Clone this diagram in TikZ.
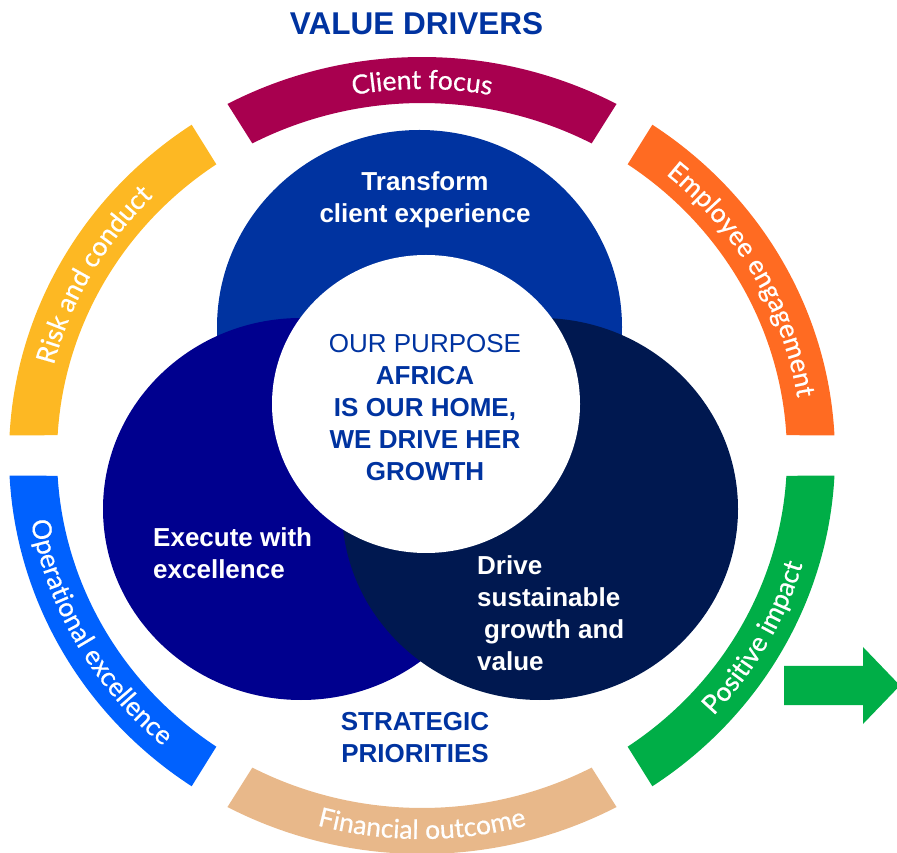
\documentclass[tikz,border=0pt]{standalone}
\usepackage{fontspec}
\setmainfont{Liberation Sans}
\newfontfamily\ringfont[FakeBold=0.6]{Lato}
\usetikzlibrary{decorations.text}
\definecolor{clientc}{HTML}{A8004F}
\definecolor{employeec}{HTML}{FF6B22}
\definecolor{riskc}{HTML}{FDB823}
\definecolor{operc}{HTML}{0061FE}
\definecolor{posc}{HTML}{00AE47}
\definecolor{finc}{HTML}{E8B88A}
\definecolor{topcirc}{HTML}{0033A0}
\definecolor{leftcirc}{HTML}{00008E}
\definecolor{rightcirc}{HTML}{001850}
\definecolor{txtblue}{HTML}{0033A0}
\newcommand\rsegment[3]{%
  \fill[#1] (#2+2.9:413pt and 398.5pt) arc[start angle=#2+2.9, end angle=#3-2.9, x radius=413pt, y radius=398.5pt]
    -- (#3-3.3:365pt and 352.5pt) arc[start angle=#3-3.3, end angle=#2+3.3, x radius=365pt, y radius=352.5pt] -- cycle;}
\newcommand\ringtxt{\ringfont\fontsize{26.5}{30}\selectfont}
\tikzset{
  cwtext/.style={decorate, decoration={text along path, text align=center, text color=white, text={|\ringtxt|#1}}},
  inwhite/.style={inner sep=0pt, text=white, font=\bfseries\fontsize{26}{31.5}\selectfont},
  inblue/.style={inner sep=0pt, text=txtblue, font=\fontsize{26}{32}\selectfont},
}
\begin{document}
\begin{tikzpicture}[x=1pt,y=1pt]
\clip (0,0) rectangle (897,852);
\useasboundingbox (0,0) rectangle (897,852);
% ring
\begin{scope}[shift={(422,396.5)}]
  \rsegment{employeec}{0}{59}
  \rsegment{clientc}{59}{121}
  \rsegment{riskc}{121}{180}
  \rsegment{operc}{180}{239}
  \rsegment{finc}{239}{301}
  \rsegment{posc}{301}{360}
  % clockwise texts (top half)
  \path[cwtext={Client focus}] (118:380pt and 366.5pt) arc[start angle=118, end angle=62, x radius=380pt, y radius=366.5pt];
  \path[cwtext={Employee engagement}] (56:380pt and 366.5pt) arc[start angle=56, end angle=3, x radius=380pt, y radius=366.5pt];
  \path[cwtext={Risk and conduct}] (177:380pt and 366.5pt) arc[start angle=177, end angle=124, x radius=380pt, y radius=366.5pt];
  % counterclockwise texts (bottom half)
  \path[cwtext={Operational excellence}] (183:397pt and 383.5pt) arc[start angle=183, end angle=236, x radius=397pt, y radius=383.5pt];
  \path[cwtext={Financial outcome}] (242:397pt and 383.5pt) arc[start angle=242, end angle=298, x radius=397pt, y radius=383.5pt];
  \path[cwtext={Positive impact}] (304:397pt and 383.5pt) arc[start angle=304, end angle=357, x radius=397pt, y radius=383.5pt];
\end{scope}
% arrow
\fill[posc] (784,186) -- (863,186) -- (863,205) -- (900,166.5) -- (863,128) -- (863,147) -- (784,147) -- cycle;
% circles
\fill[topcirc] (419.5,525) ellipse [x radius=202.5pt, y radius=197pt];
\fill[leftcirc] (301,343) ellipse [x radius=198pt, y radius=191pt];
\fill[rightcirc] (540,343) ellipse [x radius=198pt, y radius=191pt];
\fill[white] (426,448) ellipse [x radius=154pt, y radius=149pt];
% texts
\node[inner sep=0pt, text=txtblue, font=\bfseries\fontsize{31.5}{36}\selectfont, anchor=base] (title) at (416.5,817) {VALUE DRIVERS};
\node[inwhite, anchor=base] (transform) at (425,661) {\begin{tabular}[t]{@{}c@{}}Transform\\client experience\end{tabular}};
\node[inwhite, anchor=base west] (execute) at (153,305) {\begin{tabular}[t]{@{}l@{}}Execute with\\excellence\end{tabular}};
\node[inwhite, anchor=base west, font=\bfseries\fontsize{26}{31.7}\selectfont] (drive) at (477,277) {\begin{tabular}[t]{@{}l@{}}Drive\\sustainable\\\hspace{7pt}growth and\\value\end{tabular}};
\node[inblue, anchor=base] (purpose) at (425,499.3) {\begin{tabular}[t]{@{}c@{}}OUR PURPOSE\\\textbf{AFRICA}\\\textbf{IS OUR HOME,}\\\textbf{WE DRIVE HER}\\\textbf{GROWTH}\end{tabular}};
\node[inblue, font=\bfseries\fontsize{26}{32}\selectfont, anchor=base] (strategic) at (415,121.3) {\begin{tabular}[t]{@{}c@{}}STRATEGIC\\PRIORITIES\end{tabular}};
\end{tikzpicture}
\end{document}
